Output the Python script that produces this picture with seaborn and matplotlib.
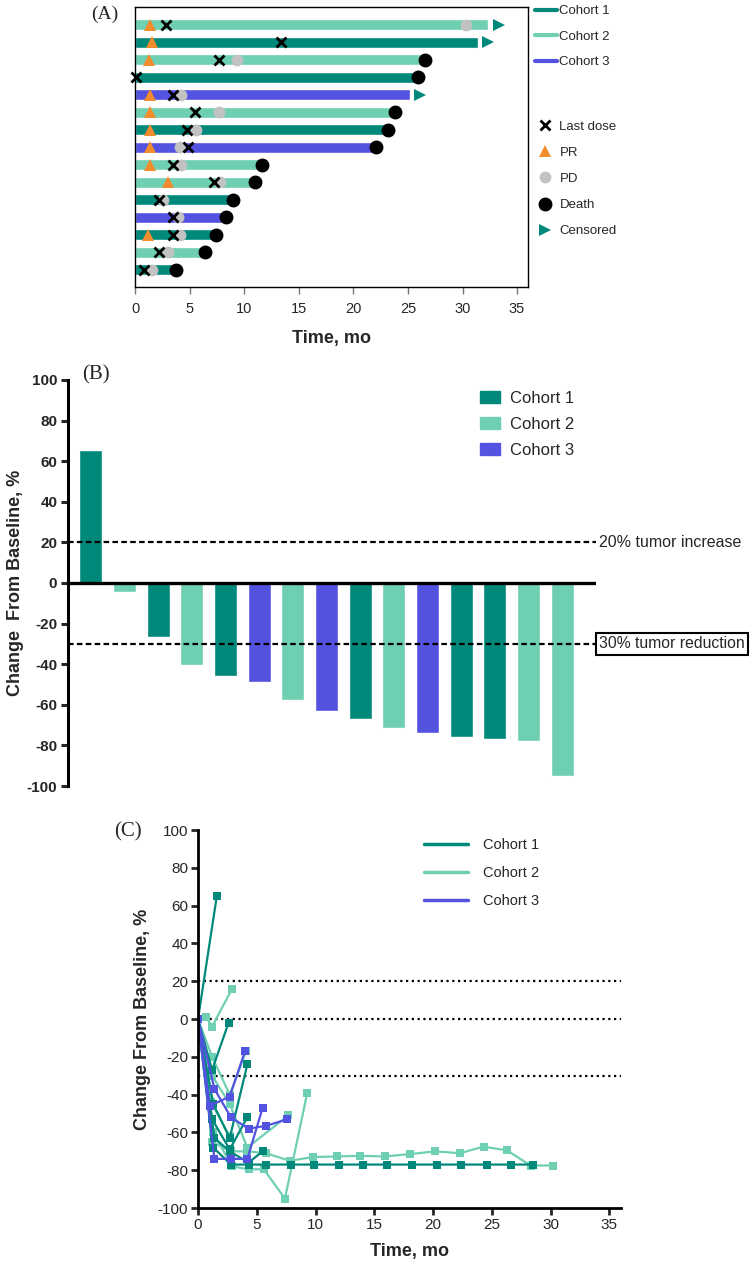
import numpy as np
import pandas as pd
import matplotlib
matplotlib.use("Agg")
import matplotlib.pyplot as plt
import matplotlib.transforms as mtransforms
from matplotlib.lines import Line2D
from matplotlib.patches import Patch
import seaborn as sns

sns.set_style("white")
plt.rcParams['font.family'] = ['Liberation Sans', 'DejaVu Sans']
plt.rcParams['axes.unicode_minus'] = False

COLORS = {"Cohort 1": "#00887A", "Cohort 2": "#6ECFB3", "Cohort 3": "#5452E0"}
PR_COLOR = "#F28C2C"
PD_COLOR = "#C2C2C2"
SERIF = ['Liberation Serif', 'DejaVu Serif']

# (A) swimmer plot, rows from top to bottom
swim_cohort = [2, 1, 2, 1, 3, 2, 1, 3, 2, 2, 1, 3, 1, 2, 1]
swim_duration = [32.35, 31.4, 26.55, 25.9, 25.2, 23.8, 23.2, 22.1, 11.6, 11.0, 9.0, 8.3, 7.4, 6.4, 3.75]
swim_last_dose = [2.8, 13.4, 7.7, 0.1, 3.45, 5.5, 4.8, 4.9, 3.45, 7.2, 2.2, 3.5, 3.5, 2.2, 0.8]
swim_pr = [1.4, 1.6, 1.3, np.nan, 1.4, 1.4, 1.4, 1.4, 1.4, 3.0, np.nan, np.nan, 1.2, np.nan, np.nan]
swim_pd = [30.3, np.nan, 9.3, np.nan, 4.2, 7.7, 5.55, 4.1, 4.2, 7.8, 2.6, 3.9, 4.1, 3.0, 1.6]
swim_status = ["censored", "censored", "death", "death", "censored", "death", "death", "death",
               "death", "death", "death", "death", "death", "death", "death"]

# (B) waterfall, best change from baseline
wf_cohort = [1, 2, 1, 2, 1, 3, 2, 3, 1, 2, 3, 1, 1, 2, 2]
wf_change = [65.5, -4.5, -26.5, -40.5, -46, -49, -57.5, -63, -67, -71.5, -74, -76, -77, -78, -95]

# (C) spider plot, one (time, change) pair of lists per patient
spider_c1 = [
    ([0, 1.6], [0, 65]),
    ([0, 1.2, 2.6], [0, -27, -2]),
    ([0, 1.3, 2.7, 4.2], [0, -45, -63, -24]),
    ([0, 1.2, 2.7, 4.2], [0, -53, -69, -52]),
    ([0, 1.4, 2.7, 4.3, 5.5], [0, -63, -70, -76, -70]),
    ([0, 1.3, 2.8, 4.3, 5.8, 7.9, 9.9, 12.0, 14.0, 16.1, 18.2, 20.3, 22.4, 24.6, 26.6, 28.5],
     [0, -68, -77, -77, -77, -77, -77, -77, -77, -77, -77, -77, -77, -77, -77, -77]),
]
spider_c2 = [
    ([0, 0.7, 1.2, 2.9], [0, 1, -4, 16]),
    ([0, 1.2, 2.7, 4.1], [0, -20, -40, -17]),
    ([0, 1.2, 2.8, 4.2, 5.8, 7.8, 9.8, 11.8, 13.8, 15.9, 18.0, 20.2, 22.3, 24.3, 26.3, 28.3, 30.2],
     [0, -65, -70, -70, -71, -75, -73, -72.7, -72.4, -72.7, -71.5, -70, -71, -67.5, -69.5, -77.5, -77.5]),
    ([0, 1.3, 2.9, 4.3, 5.6, 7.4, 9.3], [0, -60, -78, -79.5, -79.5, -95, -39]),
    ([0, 1.2, 2.7, 4.2, 7.7], [0, -30, -45, -68, -51]),
    ([0, 1.1, 2.7], [0, -44, -62]),
]
spider_c3 = [
    ([0, 1.4, 2.8, 4.3, 5.8, 7.6], [0, -37, -52, -58, -56.5, -53]),
    ([0, 1.0, 2.7, 4.0], [0, -46, -41, -17]),
    ([0, 1.4, 2.8, 4.2, 5.5], [0, -74, -74, -74, -47]),
]

fig = plt.figure(figsize=(7.5, 12.7), dpi=100)

# ---------------- (A) swimmer ----------------
axA = fig.add_axes([0.18, 0.774, 0.524, 0.2205])
df_sw = pd.DataFrame({
    "row": [str(i) for i in range(len(swim_duration))],
    "dur": swim_duration,
    "cohort": [f"Cohort {c}" for c in swim_cohort],
})
sns.barplot(data=df_sw, y="row", x="dur", hue="cohort", orient="h", dodge=False,
            width=0.63, palette=COLORS, saturation=1, legend=False, ax=axA)
rows = np.arange(len(swim_duration))
dur = np.array(swim_duration)
is_death = np.array([s == "death" for s in swim_status])
axA.plot(swim_pr, rows, ls="none", marker="^", ms=9, color=PR_COLOR, mew=0, clip_on=False, zorder=3)
axA.plot(swim_pd, rows, ls="none", marker="o", ms=8.5, color=PD_COLOR, mew=0, clip_on=False, zorder=3)
axA.plot(swim_last_dose, rows, ls="none", marker="x", ms=6.5, mew=2, color="black", clip_on=False, zorder=4)
axA.plot(dur[is_death], rows[is_death], ls="none", marker="o", ms=9, color="black", clip_on=False, zorder=4)
axA.plot(dur[~is_death] + 0.95, rows[~is_death], ls="none", marker=">", ms=9, mew=0,
         color=COLORS["Cohort 1"], clip_on=False, zorder=4)
axA.set_xlim(0, 36)
axA.set_ylim(15.0, -1.03)
axA.set_xticks(range(0, 40, 5))
axA.set_yticks([])
axA.set_ylabel("")
axA.set_xlabel("Time, mo", fontsize=13, fontweight="bold", labelpad=10)
for s in axA.spines.values():
    s.set_visible(True)
    s.set_color("black")
    s.set_linewidth(1)
axA.tick_params(axis="x", bottom=True, direction="out", length=5, width=1, color="#777777", labelsize=10.5, pad=6)

cohort_handles = [Line2D([], [], color=COLORS[k], lw=3) for k in COLORS]
legA1 = axA.legend(cohort_handles, list(COLORS), loc="upper left", bbox_to_anchor=(0.713, 0.996),
                   bbox_transform=fig.transFigure, frameon=False, fontsize=9.5, handlelength=1.7,
                   handletextpad=0.15, labelspacing=1.0, borderpad=0, borderaxespad=0)
axA.add_artist(legA1)
event_handles = [
    Line2D([], [], ls="none", marker="x", ms=6.5, mew=2, color="black"),
    Line2D([], [], ls="none", marker="^", ms=9, mew=0, color=PR_COLOR),
    Line2D([], [], ls="none", marker="o", ms=8.5, mew=0, color=PD_COLOR),
    Line2D([], [], ls="none", marker="o", ms=9, color="black"),
    Line2D([], [], ls="none", marker=">", ms=9, mew=0, color=COLORS["Cohort 1"]),
]
axA.legend(event_handles, ["Last dose", "PR", "PD", "Death", "Censored"], loc="upper left",
           bbox_to_anchor=(0.716, 0.905), bbox_transform=fig.transFigure, frameon=False,
           fontsize=9.5, handlelength=1.2, handletextpad=0.5, labelspacing=1.05,
           borderpad=0, borderaxespad=0)
fig.text(0.14, 0.989, "(A)", family=SERIF, fontsize=14, ha="center", va="center")

# ---------------- (B) waterfall ----------------
axB = fig.add_axes([0.0913, 0.3811, 0.7033, 0.3197])
df_wf = pd.DataFrame({
    "pt": [str(i) for i in range(len(wf_change))],
    "change": wf_change,
    "cohort": [f"Cohort {c}" for c in wf_cohort],
})
sns.barplot(data=df_wf, x="pt", y="change", hue="cohort", dodge=False, width=0.68,
            palette=COLORS, saturation=1, legend=False, ax=axB)
axB.set_xlim(-0.66, 15.0)
axB.set_ylim(-100, 100)
axB.set_xticks([])
axB.set_xlabel("")
axB.set_yticks(range(-100, 101, 20))
axB.set_ylabel("Change  From Baseline, %", fontsize=13, fontweight="bold", labelpad=2)
for side in ["top", "right", "bottom"]:
    axB.spines[side].set_visible(False)
axB.spines["left"].set_linewidth(2.2)
axB.spines["left"].set_color("black")
axB.tick_params(axis="y", left=True, direction="out", length=5, width=2.2, labelsize=11, pad=3)
for lab in axB.get_yticklabels():
    lab.set_fontweight("bold")
axB.axhline(0, color="black", lw=2.4, zorder=3)
axB.axhline(20, color="black", lw=1.6, ls=(0, (2.5, 1.5)), zorder=3)
axB.axhline(-30, color="black", lw=1.6, ls=(0, (2.5, 1.5)), zorder=3)
trB = mtransforms.blended_transform_factory(axB.transAxes, axB.transData)
axB.text(1.005, 20, "20% tumor increase", transform=trB, va="center", ha="left", fontsize=11.5)
axB.text(1.006, -30, "30% tumor reduction", transform=trB, va="center", ha="left", fontsize=11.3,
         bbox=dict(boxstyle="square,pad=0.2", fc="white", ec="black", lw=1.5))
patch_handles = [Patch(color=COLORS[k]) for k in COLORS]
axB.legend(patch_handles, list(COLORS), loc="upper left", bbox_to_anchor=(0.64, 0.692),
           bbox_transform=fig.transFigure, frameon=False, fontsize=12, handlelength=1.2,
           handleheight=0.75, handletextpad=0.6, labelspacing=0.65, borderpad=0, borderaxespad=0)
fig.text(0.128, 0.705, "(B)", family=SERIF, fontsize=15, ha="center", va="center")

# ---------------- (C) spider ----------------
axC = fig.add_axes([0.264, 0.0488, 0.564, 0.2976])
records = []
pid = 0
for name, group in [("Cohort 2", spider_c2), ("Cohort 1", spider_c1), ("Cohort 3", spider_c3)]:
    for t, v in group:
        for ti, vi in zip(t, v):
            records.append({"pid": pid, "cohort": name, "t": ti, "v": vi})
        pid += 1
df_sp = pd.DataFrame(records)
sns.lineplot(data=df_sp, x="t", y="v", hue="cohort", units="pid", estimator=None, sort=False,
             marker="s", markersize=6, markeredgewidth=0, lw=1.6, palette=COLORS,
             legend=False, ax=axC)
for y in [20, 0, -30]:
    axC.axhline(y, color="black", lw=1.6, ls=(0, (1, 1.6)), zorder=0)
axC.set_xlim(0, 36)
axC.set_ylim(-100, 100)
axC.set_xticks(range(0, 40, 5))
axC.set_yticks(range(-100, 101, 20))
axC.set_xlabel("Time, mo", fontsize=13, fontweight="bold", labelpad=8)
axC.set_ylabel("Change From Baseline, %", fontsize=13, fontweight="bold", labelpad=5)
for side in ["top", "right"]:
    axC.spines[side].set_visible(False)
for side in ["left", "bottom"]:
    axC.spines[side].set_linewidth(2)
    axC.spines[side].set_color("black")
axC.tick_params(axis="both", left=True, bottom=True, direction="out", length=5, width=2,
                labelsize=11, pad=2)
line_handles = [Line2D([], [], color=COLORS[k], lw=2.5) for k in COLORS]
axC.legend(line_handles, list(COLORS), loc="upper left", bbox_to_anchor=(0.566, 0.340),
           bbox_transform=fig.transFigure, frameon=False, fontsize=10.5, handlelength=3.0,
           handletextpad=1.0, labelspacing=0.95, borderpad=0, borderaxespad=0)
fig.text(0.17, 0.345, "(C)", family=SERIF, fontsize=15, ha="center", va="center")

fig.savefig("out.png", dpi=100)
